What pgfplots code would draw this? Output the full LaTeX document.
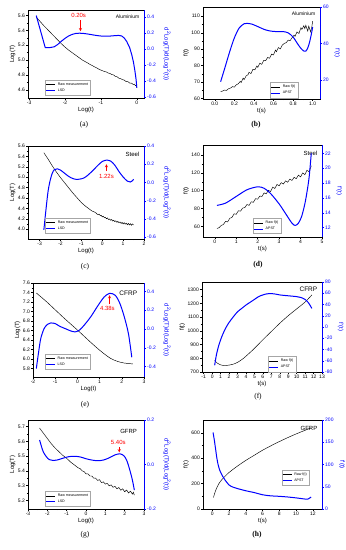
\documentclass[border=0pt]{standalone}
\usepackage{pgfplots}
\pgfplotsset{compat=1.18}
\usepackage{fontspec}
\setmainfont{Liberation Sans}
\newfontfamily\seriffont{Liberation Serif}
\begin{document}
\begin{tikzpicture}
\pgfplotsset{
  base/.style={scale only axis, anchor=south west, tick align=outside,
    /pgf/number format/assume math mode=true, /pgf/number format/1000 sep={},
    tick label style={font=\fontsize{5}{6}\selectfont, inner sep=1pt},
    label style={font=\fontsize{6}{7}\selectfont},
    major tick length=2pt, minor tick length=1.2pt,
    every tick/.style={line width=0.4pt}, axis line style={line width=0.5pt},
    xtick pos=left, ytick pos=left, minor x tick num=1, minor y tick num=1,
    xlabel shift=-2pt, ylabel shift=-2pt},
  main/.style={base},
  twin/.style={base, axis x line=none, axis y line*=right, ytick pos=right,
    y axis line style={blue}, ytick style={blue}, yticklabel style={blue},
    ylabel style={blue, rotate=180, anchor=south}, ylabel shift=1pt,
    legend style={font=\fontsize{3.6}{4}\selectfont, draw=gray!70, line width=0.3pt,
      inner sep=0.6pt, row sep=-1.8pt, anchor=north west, cells={anchor=west}},
    legend image code/.code={\draw[##1] (0pt,0pt) -- (9pt,0pt);}},
  dlabel/.style={ylabel={d\textsuperscript{2}Log(T)/d(Log\textsuperscript{2}(t))}, ylabel shift=3pt},
  dec1y/.style={yticklabel style={/pgf/number format/.cd, fixed, fixed zerofill, precision=1}},
  dec1x/.style={xticklabel style={/pgf/number format/.cd, fixed, fixed zerofill, precision=1}},
  raw/.style={black, line width=0.45pt},
  fit/.style={blue, line width=1pt},
  pa/.style={at={(28pt,452pt)}, width=116pt, height=88pt, xmin=-3.03, xmax=0.2},
  pb/.style={at={(203pt,451pt)}, width=117pt, height=92pt, xmin=-0.12, xmax=1.075},
  pc/.style={at={(28pt,311pt)}, width=116pt, height=93pt, xmin=-3.56, xmax=2},
  pd/.style={at={(203pt,313pt)}, width=119pt, height=92pt, xmin=-0.55, xmax=5},
  pe/.style={at={(33pt,173pt)}, width=111pt, height=94pt, xmin=-2, xmax=3},
  pf/.style={at={(202pt,178pt)}, width=120pt, height=90pt, xmin=-1.2, xmax=13},
  pg/.style={at={(28pt,41pt)}, width=116pt, height=89pt, xmin=-3, xmax=3},
  ph/.style={at={(203pt,41pt)}, width=119pt, height=89pt, xmin=-1.1, xmax=13.1},
}
\useasboundingbox (0,0) rectangle (346pt,550pt);

% ---------------- (a)
\begin{axis}[main, pa, xlabel={Log(t)}, ylabel={Log(T)}, ymin=4.488, ymax=5.676,
  xtick={-3,-2,-1,0}, ytick={4.6,4.8,5.0,5.2,5.4,5.6}, dec1y]
\addplot[raw] coordinates {
(-2.80,5.58) (-2.70,5.525) (-2.60,5.47) (-2.50,5.42) (-2.40,5.37) (-2.30,5.32)
(-2.20,5.27) (-2.10,5.22) (-2.00,5.175) (-1.90,5.135) (-1.80,5.10) (-1.70,5.065)
(-1.60,5.03) (-1.50,4.995) (-1.40,4.97) (-1.30,4.94) (-1.20,4.915) (-1.10,4.89)
(-1.05,4.875) (-1.00,4.865) (-0.95,4.855) (-0.90,4.845) (-0.85,4.84) (-0.80,4.825)
(-0.75,4.82) (-0.70,4.805) (-0.65,4.80) (-0.60,4.78) (-0.55,4.775) (-0.50,4.755)
(-0.45,4.75) (-0.40,4.735) (-0.35,4.73) (-0.30,4.71) (-0.25,4.71) (-0.20,4.69)
(-0.15,4.69) (-0.10,4.67) (-0.07,4.675) (-0.04,4.655) (-0.02,4.66) (0.00,4.625)};
\node[anchor=north east, font=\fontsize{5}{6}\selectfont] at (rel axis cs:0.99,0.98) {Aluminium};
\end{axis}
\begin{axis}[twin, pa, ymin=-0.61, ymax=0.49, ytick={-0.6,-0.4,-0.2,0,0.2,0.4}, dec1y,
  dlabel, legend style={at={(0.147,0.205)}}]
\addlegendimage{raw}\addlegendentry{Raw measurement}
\addplot[fit] coordinates {
(-2.80,0.42) (-2.675,0.22) (-2.55,0.02) (-2.42,0.02) (-2.3,0.03) (-2.2,0.06)
(-2.1,0.10) (-2.0,0.135) (-1.9,0.165) (-1.8,0.185) (-1.7,0.197) (-1.6,0.20)
(-1.5,0.198) (-1.4,0.192) (-1.3,0.185) (-1.2,0.177) (-1.1,0.17) (-1.0,0.165)
(-0.9,0.162) (-0.8,0.162) (-0.7,0.166) (-0.6,0.17) (-0.5,0.172) (-0.42,0.165)
(-0.35,0.14) (-0.28,0.095) (-0.2,0.02) (-0.14,-0.07) (-0.09,-0.17) (-0.05,-0.28)
(-0.02,-0.38) (0.0,-0.48)};
\addlegendentry{LSD}
\node[red, font=\fontsize{6}{7}\selectfont] at (axis cs:-1.62,0.42) {0.20s};
\draw[red, -stealth, line width=0.4pt] (axis cs:-1.57,0.36) -- (axis cs:-1.57,0.225);
\end{axis}

% ---------------- (b)
\begin{axis}[main, pb, xlabel={t(s)}, ylabel={f(t)}, ymin=59.8, ymax=115.6,
  xtick={0,0.2,0.4,0.6,0.8,1.0}, ytick={60,70,80,90,100,110}, dec1x]
\addplot[raw] coordinates {
(0.06,64.3) (0.08,64.6) (0.10,65.2) (0.12,65.0) (0.14,66.0) (0.16,66.4) (0.18,67.3)
(0.20,67.0) (0.22,68.4) (0.24,69.0) (0.26,70.5) (0.27,69.8) (0.29,72.5) (0.30,71.5)
(0.32,73.8) (0.34,74.5) (0.35,76.0) (0.37,75.2) (0.39,77.8) (0.41,77.5) (0.43,79.8)
(0.44,79.0) (0.46,81.5) (0.48,80.8) (0.50,83.2) (0.52,83.0) (0.54,85.0) (0.56,84.5)
(0.58,87.0) (0.60,86.5) (0.62,89.5) (0.63,88.5) (0.65,91.0) (0.67,90.2) (0.69,92.5)
(0.71,93.5) (0.73,94.0) (0.75,95.5) (0.77,95.2) (0.79,97.0) (0.81,98.5) (0.82,97.8)
(0.84,100.5) (0.86,99.5) (0.88,103.0) (0.89,102.0) (0.91,104.2) (0.92,102.5)
(0.93,104.5) (0.95,101.0) (0.96,104.0) (0.98,100.5) (0.99,103.0) (1.00,107.0)};
\node[anchor=north east, font=\fontsize{5}{6}\selectfont] at (rel axis cs:0.99,0.98) {Aluminium};
\end{axis}
\begin{axis}[twin, pb, ymin=9.5, ymax=60, ytick={20,40,60}, minor y tick num=1,
  ylabel={f'(t)}, legend style={at={(0.573,0.185)}}]
\addlegendimage{raw}\addlegendentry{Raw f(t)}
\addplot[fit, smooth] coordinates {
(0.06,19) (0.1,26) (0.15,35) (0.2,43) (0.25,48.5) (0.3,50.8) (0.33,51) (0.38,50.6)
(0.45,49) (0.5,47.8) (0.55,47.0) (0.6,46.6) (0.65,46.5) (0.7,46.5) (0.75,45.8)
(0.8,43.5) (0.85,39.5) (0.88,37.3) (0.91,35.8) (0.93,35.8) (0.95,37.5) (0.97,41)
(0.99,46) (1.0,49)};
\addlegendentry{APST}
\end{axis}

% ---------------- (c)
\begin{axis}[main, pc, xlabel={Log(t)}, ylabel={Log(T)}, ymin=3.81, ymax=5.6,
  xtick={-3,-2,-1,0,1,2}, ytick={4.0,4.2,4.4,4.6,4.8,5.0,5.2,5.4,5.6}, dec1y]
\addplot[raw] coordinates {
(-2.80,5.47) (-2.60,5.35) (-2.40,5.22) (-2.20,5.10) (-2.00,4.99) (-1.80,4.89)
(-1.60,4.79) (-1.40,4.69) (-1.20,4.60) (-1.00,4.51) (-0.90,4.475) (-0.80,4.44)
(-0.70,4.41) (-0.60,4.38) (-0.50,4.35) (-0.40,4.335) (-0.30,4.31) (-0.25,4.29)
(-0.20,4.28) (-0.15,4.29) (-0.10,4.26) (-0.05,4.265) (0.00,4.235) (0.05,4.25)
(0.10,4.22) (0.15,4.225) (0.20,4.20) (0.25,4.215) (0.30,4.185) (0.35,4.195)
(0.40,4.17) (0.45,4.185) (0.50,4.155) (0.55,4.17) (0.60,4.145) (0.65,4.16)
(0.70,4.13) (0.75,4.15) (0.80,4.12) (0.85,4.14) (0.90,4.11) (0.95,4.13)
(1.00,4.10) (1.05,4.125) (1.10,4.095) (1.15,4.115) (1.20,4.085) (1.25,4.11)
(1.30,4.08) (1.35,4.105) (1.40,4.075) (1.45,4.10) (1.50,4.08)};
\node[anchor=north east, font=\fontsize{6}{7}\selectfont] at (rel axis cs:0.99,0.97) {Steel};
\end{axis}
\begin{axis}[twin, pc, ymin=-0.62, ymax=0.4, ytick={-0.6,-0.4,-0.2,0,0.2,0.4}, dec1y,
  dlabel, legend style={at={(0.147,0.226)}}]
\addlegendimage{raw}\addlegendentry{Raw measurement}
\addplot[fit, smooth] coordinates {
(-2.8,-0.52) (-2.7,-0.3) (-2.6,-0.1) (-2.5,0.02) (-2.4,0.1) (-2.3,0.14) (-2.15,0.15)
(-2.0,0.135) (-1.8,0.1) (-1.6,0.065) (-1.4,0.042) (-1.2,0.033) (-1.0,0.04)
(-0.8,0.06) (-0.5,0.12) (-0.2,0.19) (0,0.23) (0.2,0.245) (0.4,0.235) (0.6,0.19)
(0.8,0.12) (1.0,0.06) (1.2,0.015) (1.35,0.005) (1.45,0.02) (1.5,0.035)};
\addlegendentry{LSD}
\node[red, font=\fontsize{6}{7}\selectfont] at (axis cs:0.2,0.07) {1.22s};
\draw[red, -stealth, line width=0.4pt] (axis cs:0.2,0.125) -- (axis cs:0.2,0.2);
\end{axis}

% ---------------- (d)
\begin{axis}[main, pd, xlabel={t(s)}, ylabel={f(t)}, ymin=48, ymax=151.3,
  xtick={0,1,2,3,4,5}, ytick={60,80,100,120,140}]
\addplot[raw] coordinates {
(0.10,57.5) (0.20,58.5) (0.30,61) (0.40,62) (0.50,65.5) (0.60,65) (0.70,69) (0.80,70)
(0.90,74) (1.00,73.5) (1.10,77.5) (1.20,77) (1.30,80.5) (1.40,81) (1.50,84.5)
(1.60,83.5) (1.70,87.5) (1.80,87) (1.90,91) (2.00,90.5) (2.10,94) (2.20,93.5)
(2.30,97.5) (2.40,96.5) (2.50,100.5) (2.60,99) (2.70,104) (2.80,102.5) (2.90,107)
(3.00,105.5) (3.10,109) (3.20,107.5) (3.30,111) (3.40,109.5) (3.50,113) (3.60,111.5)
(3.70,115) (3.80,113.5) (3.90,117.5) (4.00,115.5) (4.10,120) (4.20,118) (4.30,123)
(4.40,121) (4.50,128)};
\node[anchor=north east, font=\fontsize{6}{7}\selectfont] at (rel axis cs:0.99,0.97) {Steel};
\end{axis}
\begin{axis}[twin, pd, ymin=10.74, ymax=23.13, ytick={12,14,16,18,20,22},
  ylabel={f'(t)}, legend style={at={(0.42,0.207)}}]
\addlegendimage{raw}\addlegendentry{Raw f(t)}
\addplot[fit, smooth] coordinates {
(0.1,15) (0.5,15.3) (1,16.2) (1.5,17.1) (2,17.5) (2.3,17.3) (2.6,16.6) (3,15.2)
(3.3,13.9) (3.6,12.6) (3.75,12.3) (3.9,12.6) (4.05,13.5) (4.2,15.2) (4.3,16.8)
(4.4,18.8) (4.5,22)};
\addlegendentry{APST}
\end{axis}

% ---------------- (e)
\begin{axis}[main, pe, xlabel={Log(t)}, ylabel={Log(T)}, ymin=5.62, ymax=7.6,
  xtick={-2,-1,0,1,2,3}, ytick={5.8,6.0,6.2,6.4,6.6,6.8,7.0,7.2,7.4,7.6}, dec1y]
\addplot[raw, smooth] coordinates {
(-1.85,7.39) (-1.4,7.21) (-1.0,7.035) (-0.6,6.86) (-0.3,6.735) (0,6.61) (0.3,6.48)
(0.6,6.35) (0.9,6.225) (1.2,6.11) (1.5,6.01) (1.8,5.95) (2.1,5.915) (2.5,5.895)};
\node[anchor=north east, font=\fontsize{6.5}{7}\selectfont] at (rel axis cs:0.97,0.95) {CFRP};
\end{axis}
\begin{axis}[twin, pe, ymin=-0.51, ymax=0.49, ytick={-0.4,-0.2,0,0.2,0.4}, dec1y,
  dlabel, legend style={at={(0.108,0.245)}}]
\addlegendimage{raw}\addlegendentry{Raw measurement}
\addplot[fit, smooth] coordinates {
(-1.85,-0.42) (-1.75,-0.25) (-1.65,-0.1) (-1.5,0.005) (-1.35,0.05) (-1.2,0.065)
(-1.0,0.058) (-0.8,0.03) (-0.5,0.0) (-0.3,-0.02) (-0.1,-0.03) (0.1,-0.01) (0.3,0.04)
(0.6,0.13) (0.9,0.24) (1.2,0.34) (1.45,0.38) (1.7,0.36) (1.9,0.28) (2.1,0.14)
(2.3,-0.05) (2.45,-0.3)};
\addlegendentry{LSD}
\node[red, font=\fontsize{6}{7}\selectfont] at (axis cs:1.35,0.22) {4.38s};
\draw[red, -stealth, line width=0.4pt] (axis cs:1.45,0.265) -- (axis cs:1.45,0.36);
\end{axis}

% ---------------- (f)
\begin{axis}[main, pf, xlabel={t(s)}, ylabel={f(t)}, ymin=700, ymax=1356,
  xtick={-1,0,...,13}, ytick={700,800,900,1000,1100,1200,1300}, minor x tick num=0]
\addplot[raw, smooth] coordinates {
(0.3,785) (0.6,765) (1.0,752) (1.5,747) (2.0,750) (2.5,757) (3.0,770) (3.5,790)
(4.0,815) (5.0,872) (6.0,935) (7.0,995) (8.0,1055) (9.0,1110) (10.0,1160)
(11.0,1210) (11.8,1262)};
\node[anchor=north east, font=\fontsize{6.5}{7}\selectfont] at (rel axis cs:0.99,0.98) {CFRP};
\end{axis}
\begin{axis}[twin, pf, ymin=-80, ymax=80, ytick={-80,-60,...,80},
  ylabel={f'(t)}, legend style={at={(0.55,0.178)}}]
\addlegendimage{raw}\addlegendentry{Raw f(t)}
\addplot[fit, smooth] coordinates {
(0.3,-68) (0.5,-50) (0.8,-32) (1.2,-15) (1.6,-2) (2,8) (2.5,18) (3,27) (3.5,33)
(4,39) (4.5,44) (5,49) (5.5,54) (6,57) (6.5,59) (7,59.5) (7.5,58.5) (8,57)
(9,55.5) (10,54) (10.5,52.5) (11,49) (11.4,43) (11.8,33)};
\addlegendentry{APST}
\end{axis}

% ---------------- (g)
\begin{axis}[main, pg, xlabel={Log(t)}, ylabel={Log(T)}, ymin=5.141, ymax=5.745,
  xtick={-3,-2,-1,0,1,2,3}, ytick={5.2,5.3,5.4,5.5,5.6,5.7}, dec1y]
\addplot[raw] coordinates {
(-2.40,5.69) (-2.20,5.655) (-2.00,5.62) (-1.80,5.585) (-1.60,5.555) (-1.40,5.53)
(-1.20,5.505) (-1.00,5.485) (-0.80,5.46) (-0.60,5.44) (-0.40,5.42) (-0.30,5.415)
(-0.20,5.40) (-0.10,5.395) (0.00,5.38) (0.10,5.38) (0.20,5.365) (0.30,5.365)
(0.40,5.35) (0.50,5.35) (0.60,5.335) (0.70,5.34) (0.80,5.32) (0.90,5.325)
(1.00,5.31) (1.10,5.315) (1.20,5.298) (1.30,5.305) (1.40,5.288) (1.50,5.295)
(1.60,5.278) (1.70,5.287) (1.80,5.268) (1.90,5.278) (2.00,5.258) (2.10,5.27)
(2.20,5.25) (2.30,5.262) (2.40,5.242) (2.45,5.255) (2.50,5.235)};
\node[anchor=north east, font=\fontsize{6}{7}\selectfont] at (rel axis cs:0.97,0.93) {GFRP};
\end{axis}
\begin{axis}[twin, pg, ymin=-0.2, ymax=0.2, ytick={-0.2,0,0.2}, dec1y,
  dlabel, legend style={at={(0.147,0.202)}}]
\addlegendimage{raw}\addlegendentry{Raw measurement}
\addplot[fit, smooth] coordinates {
(-2.4,0.11) (-2.3,0.08) (-2.2,0.055) (-2.05,0.035) (-1.9,0.022) (-1.7,0.018)
(-1.5,0.02) (-1.2,0.028) (-0.9,0.035) (-0.6,0.037) (-0.3,0.034) (0,0.026)
(0.3,0.02) (0.6,0.017) (0.9,0.02) (1.2,0.03) (1.5,0.043) (1.75,0.048) (1.95,0.04)
(2.1,0.02) (2.25,-0.02) (2.4,-0.07) (2.5,-0.115)};
\addlegendentry{LSD}
\node[red, font=\fontsize{6}{7}\selectfont] at (axis cs:1.67,0.097) {5.40s};
\draw[red, -stealth, line width=0.4pt] (axis cs:1.72,0.078) -- (axis cs:1.72,0.055);
\end{axis}

% ---------------- (h)
\begin{axis}[main, ph, xlabel={t(s)}, ylabel={f(t)}, ymin=0, ymax=700,
  xtick={0,2,4,6,8,10,12}, ytick={0,200,400,600}]
\addplot[raw, smooth] coordinates {
(0.15,90) (0.3,125) (0.5,160) (0.8,200) (1.2,235) (1.5,255) (2,287) (3,337)
(4,382) (5,422) (6,462) (7,497) (8,530) (9,561) (10,590) (11,617) (11.8,638)};
\node[anchor=north east, font=\fontsize{6}{7}\selectfont] at (rel axis cs:0.99,0.97) {GFRP};
\end{axis}
\begin{axis}[twin, ph, ymin=0, ymax=200, ytick={0,50,100,150,200},
  ylabel={f'(t)}, legend style={at={(0.66,0.44)}}]
\addlegendimage{raw}\addlegendentry{Raw f(t)}
\addplot[fit, smooth] coordinates {
(0.1,172) (0.25,155) (0.4,135) (0.55,115) (0.7,100) (0.9,87) (1.2,75) (1.5,66)
(2,54) (2.5,49) (3,46) (4,41) (5,37) (6,32) (7,29.5) (8,28.5) (9,27) (10,25)
(11,22.5) (11.4,22) (11.8,27)};
\addlegendentry{APST}
\end{axis}

% panel labels
\node[font=\seriffont\fontsize{7.5}{8}\selectfont] at (84pt,425pt) {(a)};
\node[font=\seriffont\bfseries\fontsize{7.5}{8}\selectfont] at (256pt,425pt) {(b)};
\node[font=\seriffont\fontsize{7.5}{8}\selectfont] at (85pt,283pt) {(c)};
\node[font=\seriffont\bfseries\fontsize{7.5}{8}\selectfont] at (258pt,285pt) {(d)};
\node[font=\seriffont\fontsize{7.5}{8}\selectfont] at (85pt,145pt) {(e)};
\node[font=\seriffont\fontsize{7.5}{8}\selectfont] at (258pt,153pt) {(f)};
\node[font=\seriffont\fontsize{7.5}{8}\selectfont] at (85pt,15pt) {(g)};
\node[font=\seriffont\bfseries\fontsize{7.5}{8}\selectfont] at (257pt,15pt) {(h)};
\end{tikzpicture}
\end{document}
